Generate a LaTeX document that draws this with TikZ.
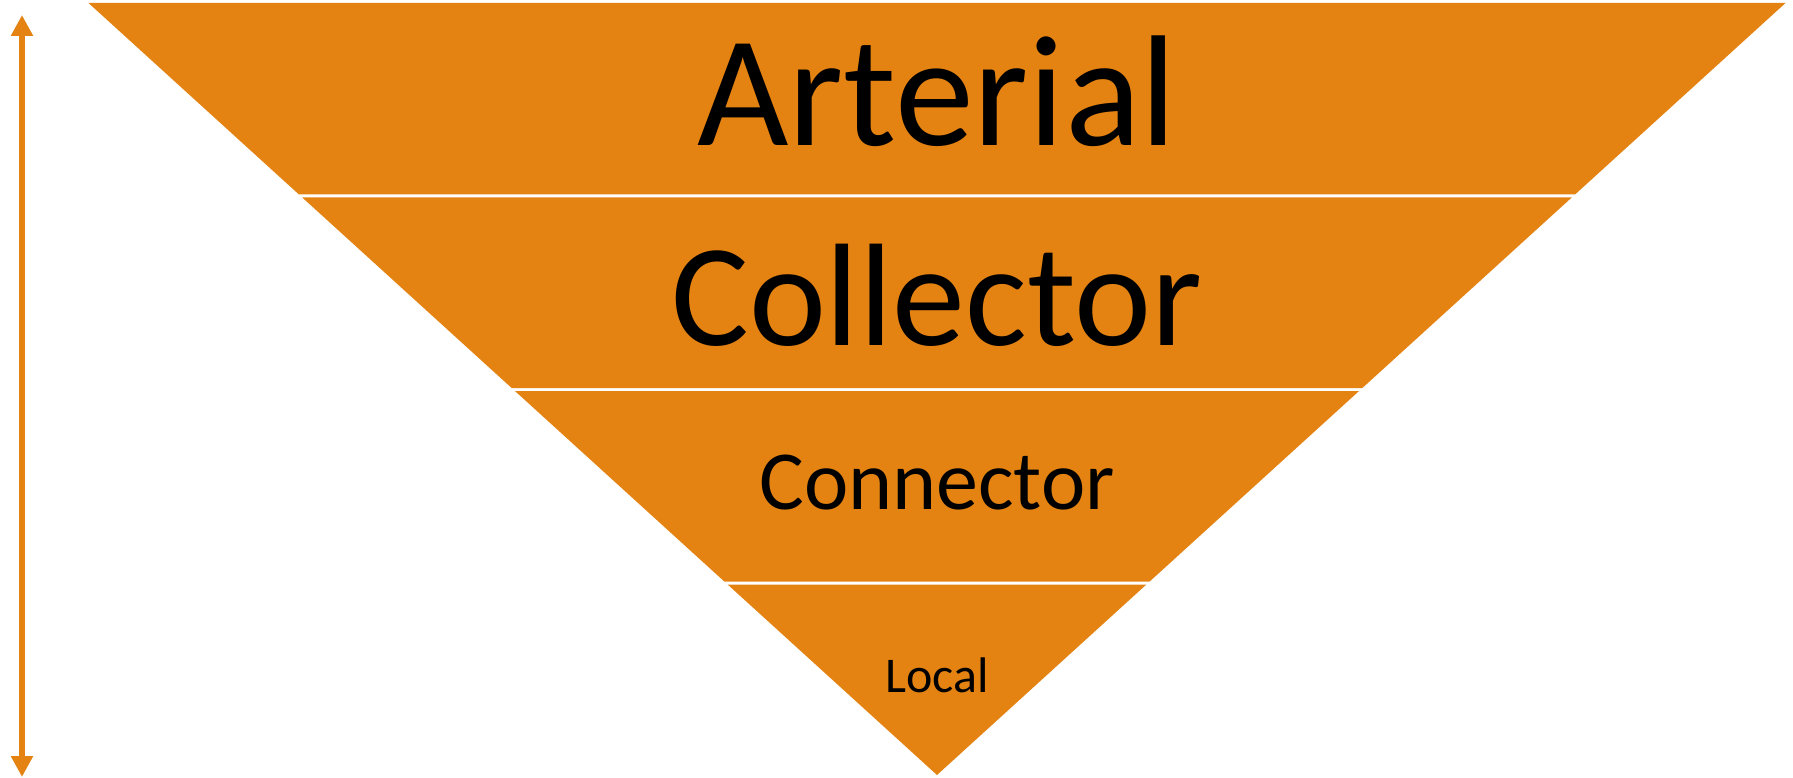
\documentclass[tikz,border=0pt]{standalone}
\usepackage{fontspec}
\setmainfont{Carlito}
\usetikzlibrary{arrows.meta}
\definecolor{funnel}{RGB}{228,131,18}

\begin{document}
\begin{tikzpicture}[
  x=1pt, y=-1pt,
  band/.style={fill=funnel, draw=none},
  tier/.style={anchor=base, inner sep=0pt, text=black},
  arrow/.style={{Triangle[width=21pt, length=21pt]}-{Triangle[width=21pt, length=21pt]}, line width=6.5pt, draw=funnel}
]
\useasboundingbox (0,0) rectangle (1793,778);

% Funnel: four bands, apex at (937,775)
\foreach \t/\b in {3/194.5, 197.5/388, 391/581.5, 584.5/775}
  \fill[band] ({937-1.0991*(775-\t)},\t) -- ({937+1.0991*(775-\t)},\t)
    -- ({937+1.0991*(775-\b)},\b) -- ({937-1.0991*(775-\b)},\b) -- cycle;

% Band labels
\node[tier, font=\fontsize{158}{158}\selectfont] (arterial) at (937,146) {Arterial};
\node[tier, font=\fontsize{146}{146}\selectfont] (collector) at (937,345) {Collector};
\node[tier, font=\fontsize{84}{84}\selectfont] (connector) at (937,509) {Connector};
\node[tier, font=\fontsize{50}{50}\selectfont] (local) at (937,692) {Local};

% Scale arrow
\coordinate (top) at (22,15);
\coordinate (bottom) at (22,777);
\draw[arrow] (bottom) -- (top);

\end{tikzpicture}
\end{document}
